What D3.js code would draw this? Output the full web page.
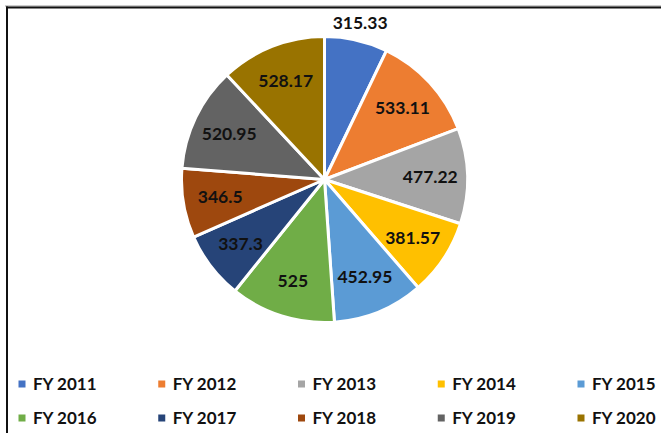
<!DOCTYPE html>
<html><head><meta charset="utf-8">
<script src="https://cdn.jsdelivr.net/npm/d3@7"></script>
<style>body{margin:0;background:#fff}svg{display:block}</style>
</head><body>
<script>
const categories = ["FY 2011","FY 2012","FY 2013","FY 2014","FY 2015","FY 2016","FY 2017","FY 2018","FY 2019","FY 2020"];
const values = [315.33,533.11,477.22,381.57,452.95,525,337.3,346.5,520.95,528.17];
const labels = ["315.33","533.11","477.22","381.57","452.95","525","337.3","346.5","520.95","528.17"];
const colors = ["#4472c4","#ed7d31","#a5a5a5","#ffc000","#5b9bd5","#70ad47","#264478","#9e480e","#636363","#997300"];

const W = 661, H = 433;
const svg = d3.select("body").append("svg").attr("width", W).attr("height", H);
svg.append("rect").attr("width", W).attr("height", H).attr("fill", "#fff");

// frame (top and left edges)
svg.append("line").attr("x1", 5).attr("x2", W).attr("y1", 6).attr("y2", 6).attr("stroke", "#999").attr("stroke-width", 1);
svg.append("line").attr("x1", 6).attr("x2", W).attr("y1", 7.5).attr("y2", 7.5).attr("stroke", "#111").attr("stroke-width", 2);
svg.append("line").attr("x1", 7).attr("x2", 7).attr("y1", 6.5).attr("y2", H).attr("stroke", "#111").attr("stroke-width", 2);

const cx = 324.5, cy = 179.5, r = 143;
const color = d3.scaleOrdinal().domain(categories).range(colors);
const pie = d3.pie().sort(null).value(d => d.v);
const data = categories.map((c, i) => ({c, v: values[i], l: labels[i]}));
const arcs = pie(data);
const arc = d3.arc().innerRadius(0).outerRadius(r);
const g = svg.append("g").attr("transform", `translate(${cx},${cy})`);
g.selectAll("path").data(arcs).join("path")
  .attr("d", arc).attr("fill", d => color(d.data.c))
  .attr("stroke", "#fff").attr("stroke-width", 3).attr("stroke-linejoin", "round");

const inArc = d3.arc().innerRadius(r * 0.74).outerRadius(r * 0.74);
const outArc = d3.arc().innerRadius(r * 1.12).outerRadius(r * 1.12);
const minV = d3.min(values);
g.selectAll("text.lbl").data(arcs).join("text")
  .attr("class", "lbl")
  .attr("transform", d => {
    const p = (d.data.v === minV ? outArc : inArc).centroid(d);
    return `translate(${p[0]},${p[1]})`;
  })
  .attr("text-anchor", "middle").attr("dy", "0.35em")
  .attr("font-family", "Lato, 'Open Sans', sans-serif").attr("font-weight", "bold")
  .attr("font-size", 17.5).attr("fill", "#111")
  .text(d => d.data.l);

// legend
const colX = d3.scalePoint().domain(d3.range(5)).range([22, 581]);
const rowY = d3.scalePoint().domain([0, 1]).range([384, 418]);
const leg = svg.append("g").selectAll("g").data(categories).join("g")
  .attr("transform", (d, i) => `translate(${colX(i % 5)},${rowY(Math.floor(i / 5))})`);
leg.append("rect").attr("x", -3.5).attr("y", -3.5).attr("width", 7).attr("height", 7).attr("fill", d => color(d));
leg.append("text").attr("x", 11).attr("dy", "0.35em")
  .attr("font-family", "Lato, 'Open Sans', sans-serif").attr("font-weight", "bold")
  .attr("font-size", 17).attr("fill", "#111").text(d => d);
</script>
</body></html>
